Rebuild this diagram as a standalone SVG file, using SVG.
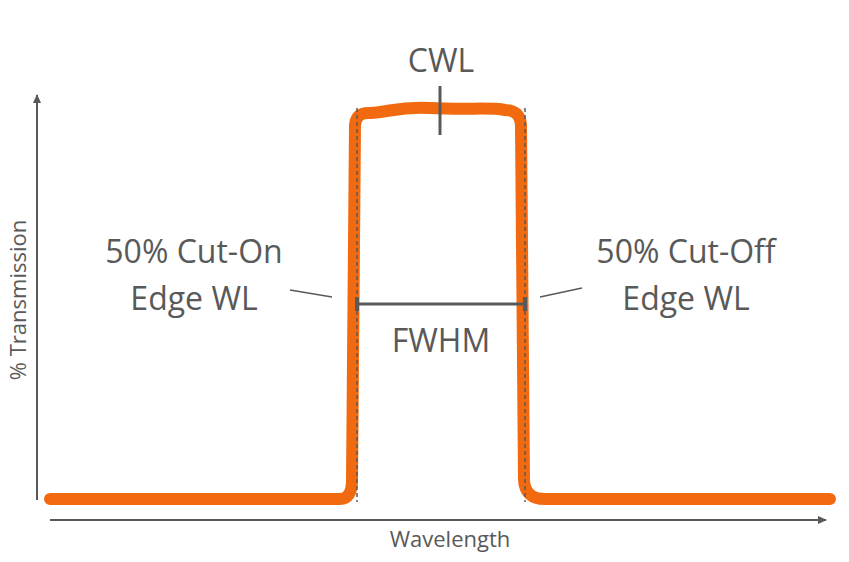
<svg xmlns="http://www.w3.org/2000/svg" width="849" height="562" viewBox="0 0 849 562">
<style>
.t{font-family:"Open Sans","Liberation Sans",sans-serif;fill:#595959}
.g{stroke:#595959;fill:none}
</style>
<defs>
<marker id="ah" markerWidth="10" markerHeight="10" refX="8" refY="5" orient="auto" markerUnits="userSpaceOnUse"><path d="M0,1 L9,5 L0,9 Z" fill="#595959"/></marker>
</defs>
<rect width="849" height="562" fill="#fff"/>
<g id="axes">
<line class="g" x1="37" y1="500" x2="37" y2="95" stroke-width="2" marker-end="url(#ah)"/>
<line class="g" x1="50" y1="520" x2="826" y2="520" stroke-width="2" marker-end="url(#ah)"/>
</g>
<g id="curve">
<path d="M50,499 L340,499 Q352,499 352,480 L355,125 Q356,112 370,113 C390,112 400,106 430,108 C470,110 490,107 505,110 Q520,110 521,125 L524,480 Q525,499 545,499 L830,499" fill="none" stroke="#f26a10" stroke-width="12" stroke-linejoin="round" stroke-linecap="round"/>
</g>
<g id="connectors">
<line class="g" x1="357" y1="108" x2="357" y2="502" stroke-width="1.5" stroke-dasharray="4,3"/>
<line class="g" x1="525" y1="108" x2="525" y2="502" stroke-width="1.5" stroke-dasharray="4,3"/>
<line class="g" x1="357" y1="304" x2="525" y2="304" stroke-width="3"/>
<line class="g" x1="357" y1="297" x2="357" y2="311" stroke-width="4"/>
<line class="g" x1="525" y1="297" x2="525" y2="311" stroke-width="4"/>
<line class="g" x1="440" y1="86" x2="440" y2="135" stroke-width="3"/>
<line class="g" x1="290" y1="290" x2="332" y2="297" stroke-width="1.5"/>
<line class="g" x1="540" y1="297" x2="582" y2="288" stroke-width="1.5"/>
</g>
<g id="labels">
<text class="t" x="441" y="72" font-size="32" text-anchor="middle">CWL</text>
<text class="t" x="194" y="263" font-size="32" text-anchor="middle">50% Cut-On</text>
<text class="t" x="194" y="310" font-size="32" text-anchor="middle">Edge WL</text>
<text class="t" x="686" y="263" font-size="32" text-anchor="middle">50% Cut-Off</text>
<text class="t" x="686" y="310" font-size="32" text-anchor="middle">Edge WL</text>
<text class="t" x="441" y="352" font-size="32" text-anchor="middle">FWHM</text>
<text class="t" x="450" y="547" font-size="22" text-anchor="middle">Wavelength</text>
<text class="t" x="26" y="300" font-size="22" text-anchor="middle" transform="rotate(-90 26 300)">% Transmission</text>
</g>
</svg>
